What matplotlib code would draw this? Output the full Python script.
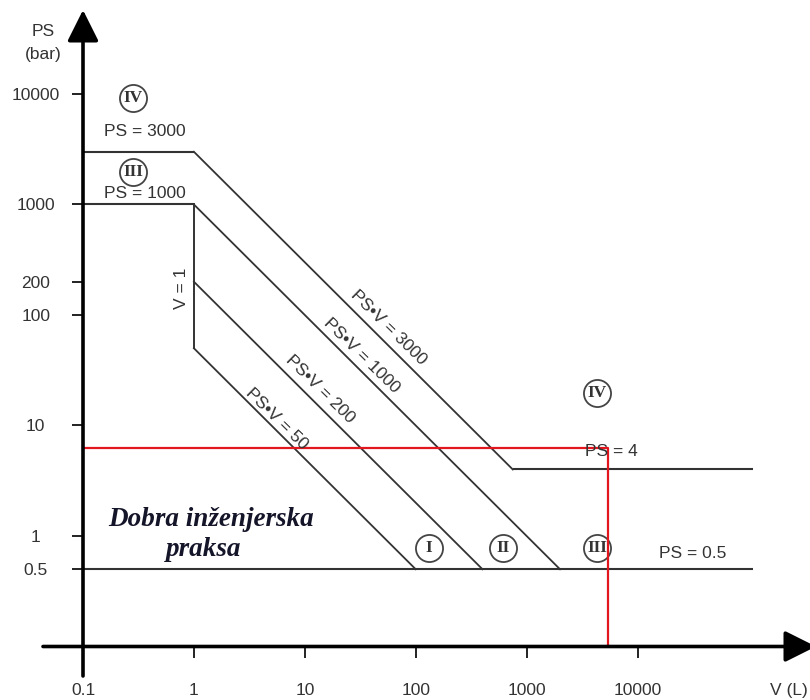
import matplotlib
matplotlib.use("Agg")
import matplotlib.pyplot as plt
from matplotlib.ticker import FixedLocator, NullLocator

# chart values (V in litres, PS in bar)
x_ticks = [0.1, 1, 10, 100, 1000, 10000]
x_tick_labels = ["0.1", "1", "10", "100", "1000", "10000"]
y_ticks = [0.5, 1, 10, 100, 200, 1000, 10000]
y_tick_labels = ["0.5", "1", "10", "100", "200", "1000", "10000"]

# horizontal limits PS = const: (PS, V start, V end)
ps_levels = [3000, 1000, 4, 0.5]
ps_v_start = [0.1, 0.1, 750, 0.1]
ps_v_end = [1, 1, 110000, 110000]

# vertical limit V = 1
v1_ps = [1000, 50]

# PS*V = const lines, from V = 1 down to the lower limit
pv_values = [50, 200, 1000, 3000]
pv_ps_start = [50, 200, 1000, 3000]
pv_ps_end = [0.5, 0.5, 0.5, 4]
pv_v_end = [100, 400, 2000, 750]

# red example point
red_v = 5400
red_ps = 6.2

W, H = 810, 700
fig = plt.figure(figsize=(W / 100, H / 100), dpi=100)


def px(x, y):
    # pixel position (from top-left) -> figure fraction
    return x / W, 1 - y / H


ax = fig.add_axes([83 / W, (H - 646.5) / H, (W - 83) / W, (646.5 - 12) / H])
ax.set_xscale("log")
ax.set_yscale("log")
ax.set_xlim(0.1, 10 ** 5.555)
ax.set_ylim(0.1, 10 ** 4.742)
for s in ax.spines.values():
    s.set_visible(False)

ax.xaxis.set_major_locator(FixedLocator(x_ticks))
ax.xaxis.set_minor_locator(NullLocator())
ax.set_xticklabels(x_tick_labels)
ax.yaxis.set_major_locator(FixedLocator(y_ticks))
ax.yaxis.set_minor_locator(NullLocator())
ax.set_yticklabels(y_tick_labels, ha="center")
ax.tick_params(axis="x", direction="out", length=8, width=1.4, color="#222222",
               pad=18, labelsize=12.5, labelcolor="#333333")
ax.tick_params(axis="y", direction="out", length=8, width=1.4, color="#222222",
               pad=26, labelsize=12.5, labelcolor="#333333")
for lab in ax.get_xticklabels() + ax.get_yticklabels():
    lab.set_family("Liberation Sans")

line_col = "#333333"
for ps, v0, v1 in zip(ps_levels, ps_v_start, ps_v_end):
    ax.plot([v0, v1], [ps, ps], color=line_col, lw=1.5, solid_capstyle="butt")
ax.plot([1, 1], v1_ps, color=line_col, lw=1.4)
for p0, p1, v1 in zip(pv_ps_start, pv_ps_end, pv_v_end):
    ax.plot([1, v1], [p0, p1], color=line_col, lw=1.3)

# red lines
ax.plot([0.1, red_v, red_v], [red_ps, red_ps, 0.1], color="#e3161d", lw=1.6, zorder=5)

# axes with arrows
arrow = dict(arrowstyle="-|>,head_length=0.8,head_width=0.4", lw=2.6,
             color="black", mutation_scale=24, shrinkA=0, shrinkB=0)
ax.annotate("", xy=px(816, 646.5), xytext=px(43, 646.5),
            xycoords="figure fraction", textcoords="figure fraction",
            arrowprops=arrow, zorder=6)
ax.annotate("", xy=px(83, 10), xytext=px(83, 676),
            xycoords="figure fraction", textcoords="figure fraction",
            arrowprops=arrow, zorder=6)

txt = dict(family="Liberation Sans", fontsize=12.5, color="#333333",
           ha="center", va="center")
fig.text(*px(43, 31), "PS", **txt)
fig.text(*px(43, 55), "(bar)", **txt)
fig.text(*px(770, 690), "V (L)", **{**txt, "ha": "left"})
fig.text(*px(145, 131), "PS = 3000", **txt)
fig.text(*px(145, 194), "PS = 1000", **txt)
fig.text(*px(182, 288), "V = 1", rotation=90, **txt)
fig.text(*px(611, 451), "PS = 4", **txt)
fig.text(*px(693, 553), "PS = 0.5", **txt)

pv_label_pos = [(277, 419), (320, 389), (362, 356), (389, 328)]
for val, (x, y) in zip(pv_values, pv_label_pos):
    fig.text(*px(x, y), f"PS\u2022V = {val}", rotation=-44.5,
             rotation_mode="anchor", **txt)

# circled categories
cats = [("IV", 133, 98), ("III", 133, 172), ("IV", 597, 393),
        ("I", 429, 548), ("II", 503, 548), ("III", 597, 548)]
for name, x, y in cats:
    fx, fy = px(x, y)
    ax.plot([fx], [fy], "o", ms=19.5, mfc="none", mec="#444444", mew=1.3,
            transform=fig.transFigure, clip_on=False, zorder=4)
    fig.text(fx, fy, name, family="Liberation Serif", fontsize=12.5,
             fontweight="bold", color="#333333", ha="center", va="center")

dobra = dict(family="Liberation Serif", fontsize=19.5, fontweight="bold",
             style="italic", color="#15152a", ha="center", va="center")
fig.text(*px(211, 520), "Dobra in\u017eenjerska", **dobra)
fig.text(*px(204, 549), "praksa", **dobra)

fig.savefig("out.png", dpi=100)
